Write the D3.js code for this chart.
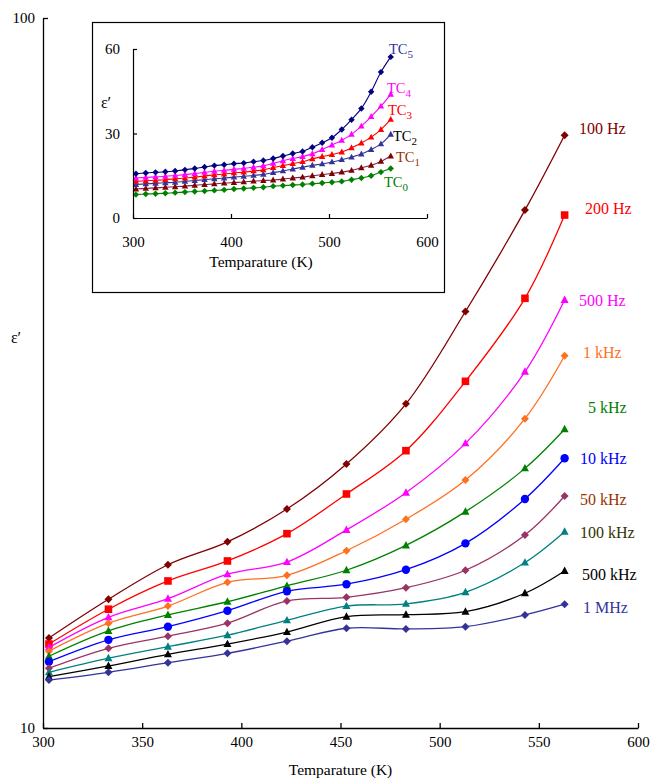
<!DOCTYPE html>
<html>
<head>
<meta charset="utf-8">
<script src="https://cdn.jsdelivr.net/npm/d3@7"></script>
<style>
  body { margin: 0; background: #fff; }
  svg { font-family: "Liberation Serif", "Times New Roman", serif; }
</style>
</head>
<body>
<svg id="chart" width="651" height="780"></svg>
<script>
// main chart data (dielectric constant vs temperature, one series per frequency)
const temps = [303, 333, 363, 393, 423, 453, 483, 513, 543, 563];
const freqNames = ["100 Hz", "200 Hz", "500 Hz", "1 kHz", "5 kHz", "10 kHz", "50 kHz", "100 kHz", "500 kHz", "1 MHz"];
const eps100Hz = [13.39, 15.18, 16.98, 18.29, 20.34, 23.54, 28.61, 38.60, 53.64, 68.38];
const eps200Hz = [13.13, 14.70, 16.11, 17.19, 18.78, 21.36, 24.58, 30.78, 40.29, 52.78];
const eps500Hz = [12.99, 14.32, 15.21, 16.47, 17.13, 19.01, 21.45, 25.17, 31.75, 40.07];
const eps1kHz = [12.83, 14.05, 14.85, 16.04, 16.41, 17.77, 19.68, 22.35, 27.27, 33.44];
const eps5kHz = [12.62, 13.70, 14.43, 15.06, 15.86, 16.68, 18.08, 20.17, 23.21, 26.35];
const eps10kHz = [12.40, 13.31, 13.89, 14.63, 15.58, 15.94, 16.71, 18.20, 21.02, 23.98];
const eps50kHz = [12.14, 12.95, 13.47, 14.05, 15.10, 15.28, 15.76, 16.68, 18.70, 21.22];
const eps100kHz = [11.98, 12.54, 13.02, 13.51, 14.18, 14.85, 14.96, 15.53, 17.10, 18.90];
const eps500kHz = [11.81, 12.23, 12.70, 13.13, 13.65, 14.35, 14.44, 14.58, 15.48, 16.64];
const eps1MHz = [11.68, 11.98, 12.36, 12.74, 13.25, 13.82, 13.79, 13.89, 14.43, 14.94];

const xTicks = [300, 350, 400, 450, 500, 550, 600];
const yTicks = [10, 100];

// inset data (samples TC0..TC5)
const insetTemps = [303, 313, 323, 333, 343, 353, 363, 373, 383, 393, 403, 413, 423, 433,
  443, 453, 463, 473, 483, 493, 503, 513, 523, 533, 543, 553, 563];
const sampleNames = ["TC0", "TC1", "TC2", "TC3", "TC4", "TC5"];
const epsTC0 = [8.3, 8.5, 8.6, 8.8, 9.0, 9.2, 9.4, 9.6, 9.8, 10.0, 10.3, 10.5, 10.7, 10.9,
  11.3, 11.5, 11.7, 11.9, 12.2, 12.4, 12.7, 13.0, 13.6, 14.2, 15.0, 16.3, 17.6];
const epsTC1 = [10.3, 10.5, 10.7, 10.9, 11.1, 11.3, 11.6, 11.9, 12.1, 12.4, 12.6, 12.8, 13.1, 13.3,
  13.5, 13.8, 14.2, 14.5, 15.0, 15.4, 15.8, 16.3, 16.9, 17.8, 18.7, 20.1, 22.0];
const epsTC2 = [11.9, 12.1, 12.3, 12.5, 12.7, 13.0, 13.3, 13.6, 13.9, 14.2, 14.5, 14.8, 15.1, 15.5,
  16.1, 16.7, 17.4, 18.0, 18.7, 19.2, 19.9, 20.7, 21.6, 22.7, 24.3, 26.3, 29.7];
const epsTC3 = [13.0, 13.2, 13.4, 13.6, 13.9, 14.2, 14.5, 14.9, 15.3, 15.6, 16.0, 16.3, 16.7, 17.1,
  17.9, 18.6, 19.3, 20.0, 21.0, 21.8, 22.5, 23.4, 24.9, 26.6, 28.7, 31.4, 35.0];
const epsTC4 = [14.2, 14.4, 14.6, 14.8, 15.1, 15.4, 15.8, 16.2, 16.6, 16.9, 17.3, 17.6, 18.0, 18.5,
  19.4, 20.3, 21.1, 21.8, 22.8, 24.3, 25.9, 27.6, 29.7, 32.6, 36.0, 39.7, 43.9];
const epsTC5 = [15.7, 16.0, 16.2, 16.4, 16.7, 17.1, 17.6, 18.1, 18.6, 18.9, 19.3, 19.5, 20.0, 20.4,
  21.1, 22.0, 22.9, 23.6, 25.1, 26.7, 28.5, 31.4, 34.9, 38.9, 44.8, 51.8, 57.2];

const insetXTicks = [300, 400, 500, 600];
const insetYTicks = [0, 30, 60];

// styles
const mainStyles = [
  { line: "#800000", marker: "#800000", shape: "diamond", label: "#800000", lx: 579, ly: 128 },
  { line: "#ff0000", marker: "#ff0000", shape: "square", label: "#ff0000", lx: 585, ly: 208 },
  { line: "#ff00ff", marker: "#ff00ff", shape: "triangle", label: "#ff00ff", lx: 579, ly: 300 },
  { line: "#ff7020", marker: "#ff7020", shape: "diamond", label: "#ff7020", lx: 583, ly: 352 },
  { line: "#008000", marker: "#008000", shape: "triangle", label: "#008000", lx: 588, ly: 407 },
  { line: "#0000ff", marker: "#0000ff", shape: "circle", label: "#0000ff", lx: 580, ly: 458 },
  { line: "#993366", marker: "#993366", shape: "diamond", label: "#993300", lx: 580, ly: 499 },
  { line: "#008080", marker: "#008080", shape: "triangle", label: "#333300", lx: 580, ly: 532 },
  { line: "#000000", marker: "#000000", shape: "triangle", label: "#000000", lx: 582, ly: 574 },
  { line: "#333399", marker: "#333399", shape: "diamond", label: "#333399", lx: 583, ly: 607 }
];
const insetStyles = [
  { line: "#008000", marker: "#008000", shape: "diamond", label: "#008000", lx: 384, ly: 182 },
  { line: "#80204a", marker: "#800000", shape: "triangle", label: "#993300", lx: 396, ly: 157 },
  { line: "#333399", marker: "#333399", shape: "triangle", label: "#000000", lx: 393, ly: 136 },
  { line: "#ff0000", marker: "#ff0000", shape: "triangle", label: "#ff0000", lx: 388, ly: 110 },
  { line: "#ff00ff", marker: "#ff00ff", shape: "triangle", label: "#ff00ff", lx: 387, ly: 88 },
  { line: "#000080", marker: "#000080", shape: "diamond", label: "#333399", lx: 389, ly: 49 }
];

const mainSeries = [eps100Hz, eps200Hz, eps500Hz, eps1kHz, eps5kHz, eps10kHz, eps50kHz, eps100kHz, eps500kHz, eps1MHz]
  .map((vals, i) => ({ name: freqNames[i], style: mainStyles[i], points: vals.map((v, j) => ({ t: temps[j], v })) }));
const insetSeries = [epsTC0, epsTC1, epsTC2, epsTC3, epsTC4, epsTC5]
  .map((vals, i) => ({ name: sampleNames[i], style: insetStyles[i], points: vals.map((v, j) => ({ t: insetTemps[j], v })) }));

// marker paths
function markerPath(shape, r) {
  if (shape === "diamond") return `M0,${-r}L${r},0L0,${r}L${-r},0Z`;
  if (shape === "square") return `M${-r},${-r}H${r}V${r}H${-r}Z`;
  if (shape === "triangle") return `M0,${-r * 1.1}L${r},${r * 0.75}L${-r},${r * 0.75}Z`;
  return d3.symbol(d3.symbolCircle, Math.PI * r * r)();
}

const svg = d3.select("#chart");

// MAIN CHART
const margin = { top: 18, right: 13, bottom: 52, left: 43 };
const width = 651 - margin.left - margin.right;
const height = 780 - margin.top - margin.bottom;

const chart = svg.append("g").attr("transform", `translate(${margin.left},${margin.top})`);

const x = d3.scaleLinear().domain([300, 600]).range([0, width]);
const y = d3.scaleLog().domain([10, 100]).range([height, 0]);

const line = d3.line()
  .x(d => x(d.t))
  .y(d => y(d.v))
  .curve(d3.curveCatmullRom.alpha(0.5));

const groups = chart.selectAll(".series")
  .data(mainSeries)
  .enter()
  .append("g")
  .attr("class", "series");

groups.append("path")
  .attr("fill", "none")
  .attr("stroke", d => d.style.line)
  .attr("stroke-width", 1.3)
  .attr("d", d => line(d.points));

groups.each(function(s) {
  d3.select(this).selectAll(".mk")
    .data(s.points)
    .enter()
    .append("path")
    .attr("class", "mk")
    .attr("transform", d => `translate(${x(d.t)},${y(d.v)})`)
    .attr("d", markerPath(s.style.shape, s.style.shape === "square" ? 3.8 : (s.style.shape === "circle" ? 4.2 : 4)))
    .attr("fill", s.style.marker);
});

// axes
const xAxis = chart.append("g")
  .attr("transform", `translate(0,${height})`)
  .call(d3.axisBottom(x).tickValues(xTicks).tickSizeInner(-5).tickSizeOuter(0).tickPadding(8));
const yAxis = chart.append("g")
  .call(d3.axisLeft(y).tickValues(yTicks).tickFormat(d3.format("d")).tickSizeInner(-5).tickSizeOuter(0).tickPadding(8));

[xAxis, yAxis].forEach(a => {
  a.attr("font-family", null).attr("font-size", null);
  a.selectAll("path, line").attr("stroke", "#000").attr("stroke-width", 1.3);
  a.selectAll("text").attr("fill", "#000").style("font-size", "15px");
});

// series labels
svg.selectAll(".flabel")
  .data(mainSeries)
  .enter()
  .append("text")
  .attr("class", "flabel")
  .attr("x", d => d.style.lx)
  .attr("y", d => d.style.ly)
  .attr("dy", "0.35em")
  .attr("fill", d => d.style.label)
  .style("font-size", "16px")
  .text(d => d.name);

// axis titles
svg.append("text")
  .attr("x", margin.left + x(450))
  .attr("y", 775)
  .attr("text-anchor", "middle")
  .style("font-size", "15.5px")
  .text("Temparature (K)");

svg.append("text")
  .attr("x", 16)
  .attr("y", 343)
  .attr("text-anchor", "middle")
  .style("font-size", "16px")
  .text("ε′");

// INSET
svg.append("rect")
  .attr("x", 92.5)
  .attr("y", 22.5)
  .attr("width", 352)
  .attr("height", 270)
  .attr("fill", "#fff")
  .attr("stroke", "#000")
  .attr("stroke-width", 1.2);

const ix = d3.scaleLinear().domain([300, 600]).range([133, 427]);
const iy = d3.scaleLinear().domain([0, 60]).range([218, 49]);

const iline = d3.line()
  .x(d => ix(d.t))
  .y(d => iy(d.v))
  .curve(d3.curveCatmullRom.alpha(0.5));

const igroups = svg.selectAll(".iseries")
  .data(insetSeries)
  .enter()
  .append("g")
  .attr("class", "iseries");

igroups.append("path")
  .attr("fill", "none")
  .attr("stroke", d => d.style.line)
  .attr("stroke-width", 1.1)
  .attr("d", d => iline(d.points));

igroups.each(function(s) {
  d3.select(this).selectAll(".imk")
    .data(s.points)
    .enter()
    .append("path")
    .attr("class", "imk")
    .attr("transform", d => `translate(${ix(d.t)},${iy(d.v)})`)
    .attr("d", markerPath(s.style.shape, 3.2))
    .attr("fill", s.style.marker);
});

const ixAxis = svg.append("g")
  .attr("transform", "translate(0,218)")
  .call(d3.axisBottom(ix).tickValues(insetXTicks).tickSizeInner(-4).tickSizeOuter(0).tickPadding(18));
const iyAxis = svg.append("g")
  .attr("transform", "translate(133,0)")
  .call(d3.axisLeft(iy).tickValues(insetYTicks).tickSizeInner(-4).tickSizeOuter(0).tickPadding(13));

[ixAxis, iyAxis].forEach(a => {
  a.attr("font-family", null).attr("font-size", null);
  a.selectAll("path, line").attr("stroke", "#000").attr("stroke-width", 1.2);
  a.selectAll("text").attr("fill", "#000").style("font-size", "15px");
});

// inset labels with subscripts
insetSeries.forEach(s => {
  const t = svg.append("text")
    .attr("x", s.style.lx)
    .attr("y", s.style.ly)
    .attr("dy", "0.35em")
    .attr("fill", s.style.label)
    .style("font-size", "14.5px");
  t.append("tspan").text(s.name.slice(0, 2));
  t.append("tspan").attr("dy", 4).style("font-size", "11px").text(s.name.slice(2));
});

svg.append("text")
  .attr("x", 261)
  .attr("y", 267)
  .attr("text-anchor", "middle")
  .style("font-size", "15.5px")
  .text("Temparature (K)");

svg.append("text")
  .attr("x", 106)
  .attr("y", 108)
  .attr("text-anchor", "middle")
  .style("font-size", "16px")
  .text("ε′");
</script>
</body>
</html>
